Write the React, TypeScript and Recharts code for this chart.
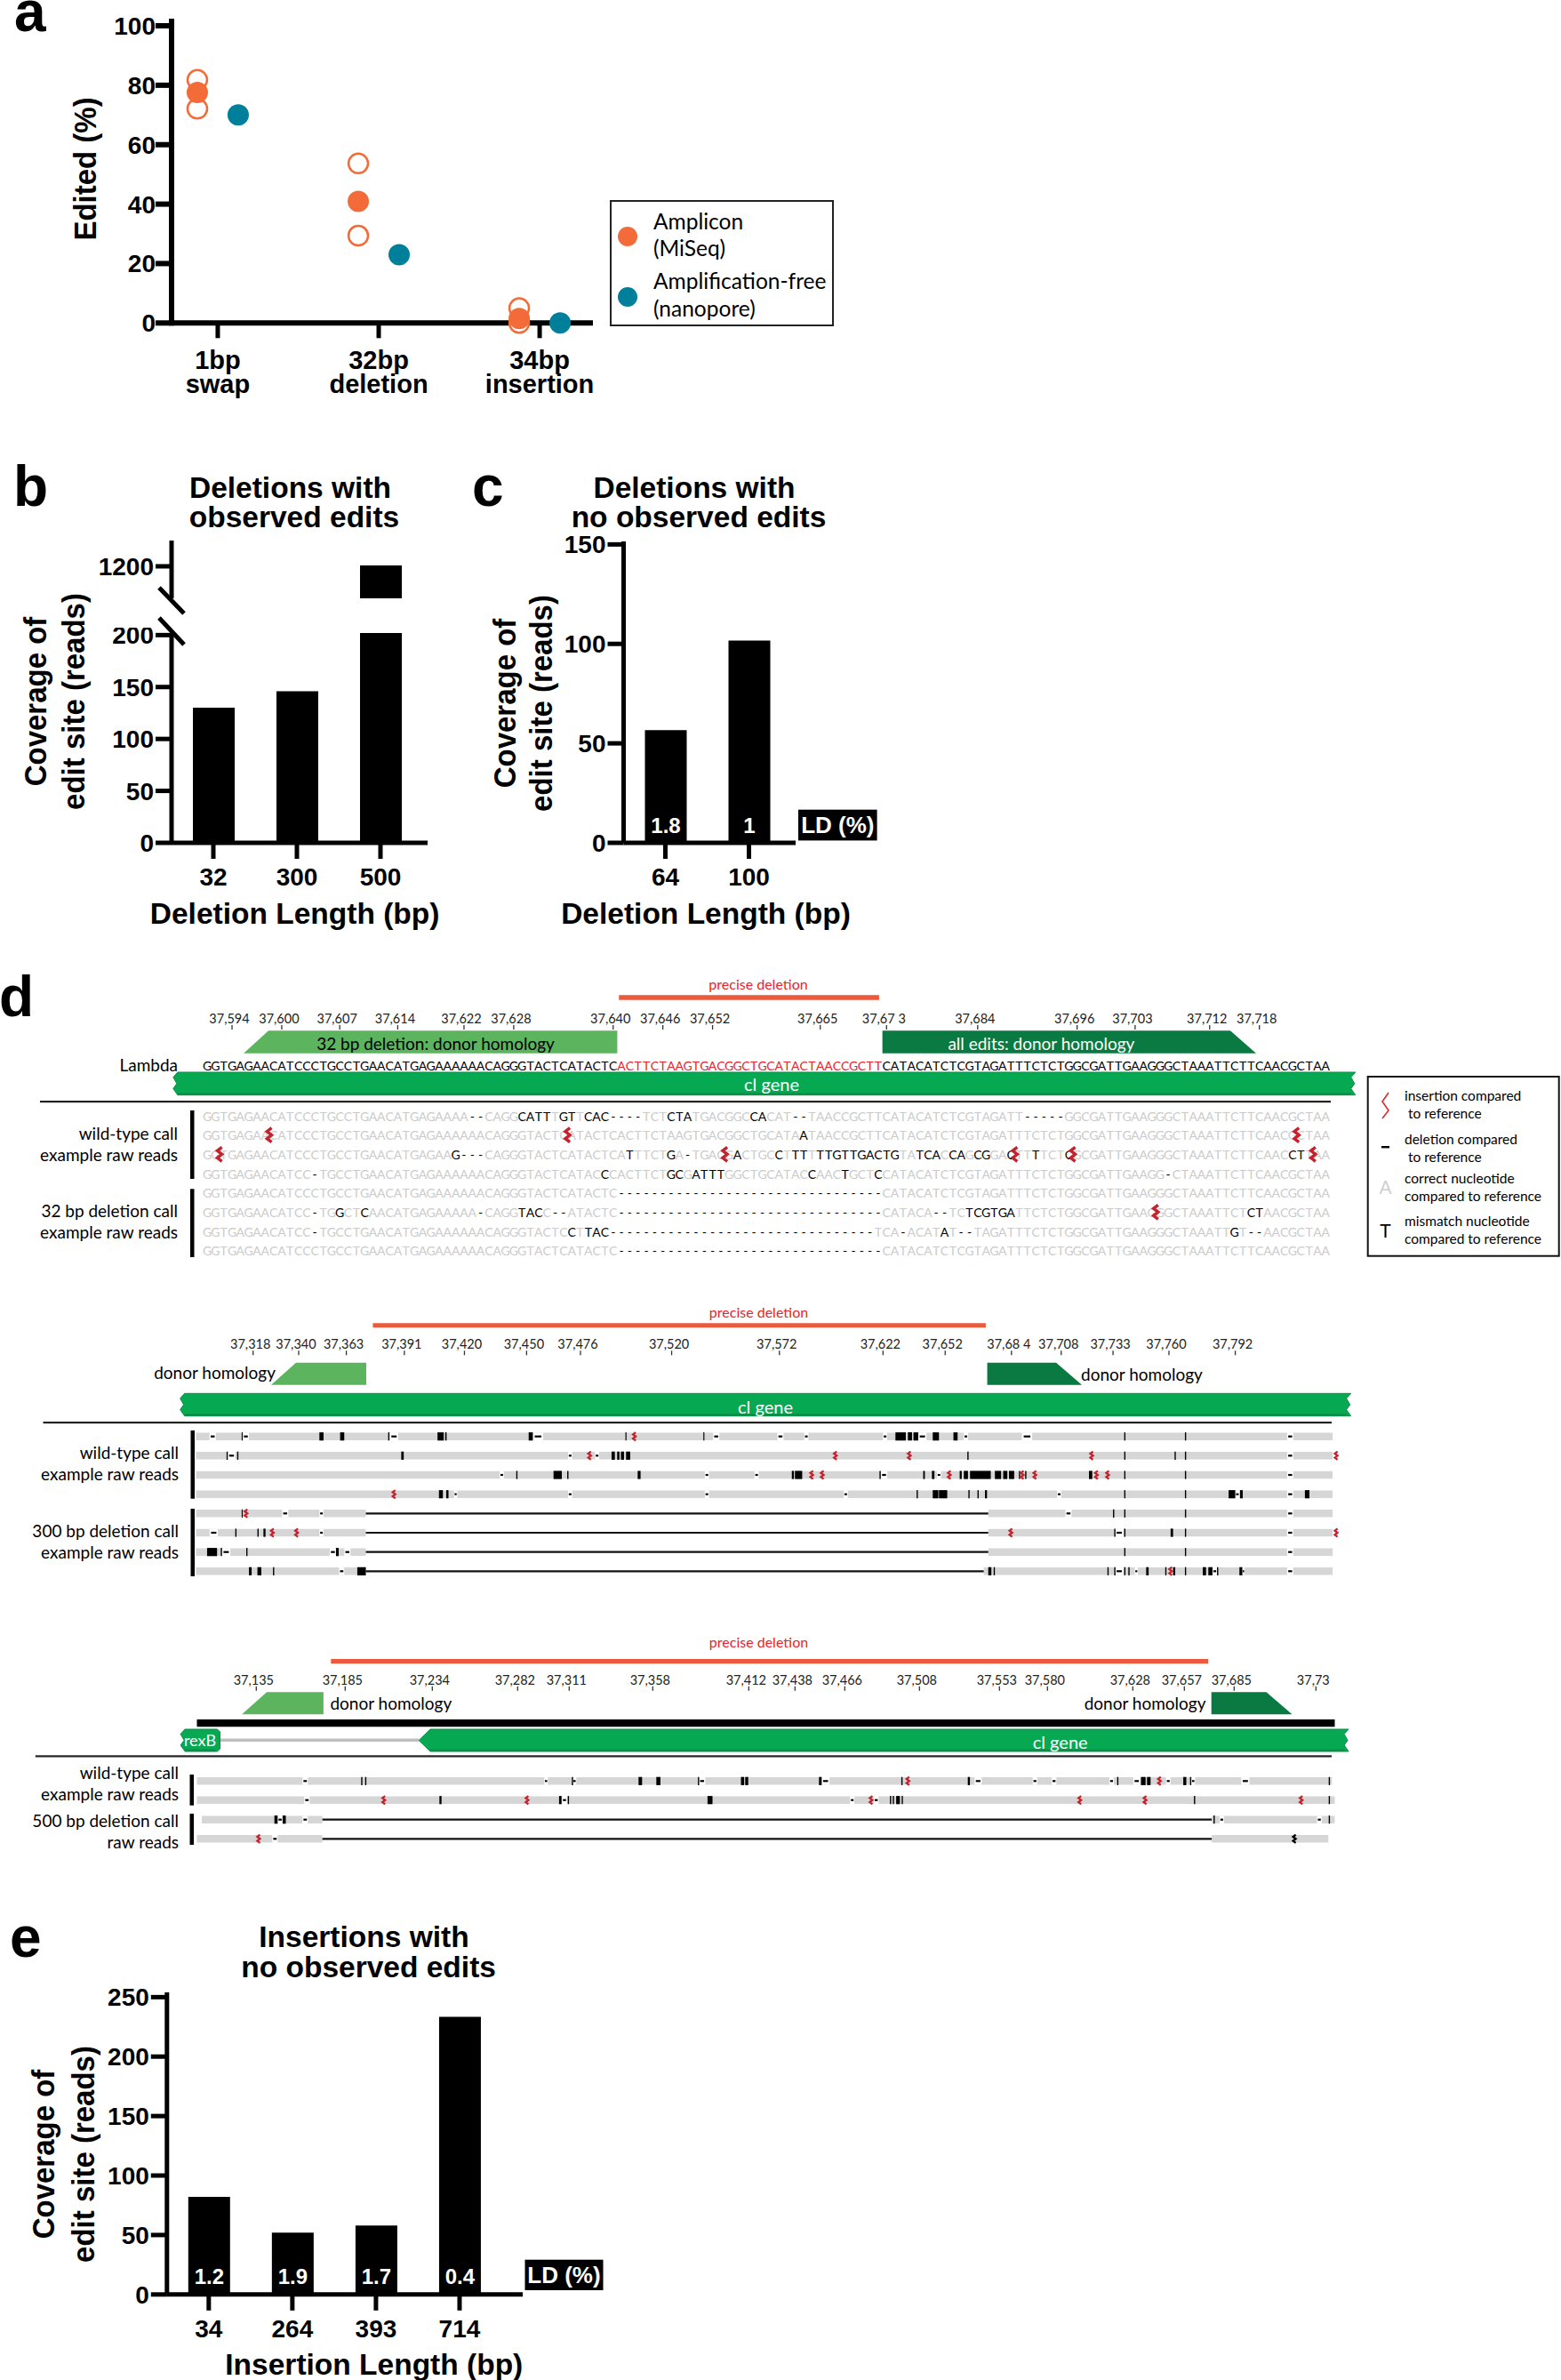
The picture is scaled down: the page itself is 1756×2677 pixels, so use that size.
import React from "react";
import {
  Bar,
  BarChart,
  LabelList,
  ReferenceArea,
  Scatter,
  ScatterChart,
  XAxis,
  YAxis,
} from "recharts";

// panel a
const editGroups = [["1bp", "swap"], ["32bp", "deletion"], ["34bp", "insertion"]];
const ampliconReplicates = [[81.8, 72.1], [53.7, 29.4], [5, 0]];
const ampliconMean = [77.6, 40.9, 1.5];
const nanopore = [70, 23, 0];

// panels b, c, e
const obsLengths = ["32", "300", "500"];
const obsCoverage = [130, 146, 1205];
const noObsLengths = ["64", "100"];
const noObsCoverage = [56.6, 101.7];
const noObsLd = ["1.8", "1"];
const insLengths = ["34", "264", "393", "714"];
const insCoverage = [82, 52, 57.9, 233.4];
const insLd = ["1.2", "1.9", "1.7", "0.4"];

// panel d, 32 bp locus
const refLeft = "GGTGAGAACATCCCTGCCTGAACATGAGAAAAAACAGGGTACTCATACTC";
const refDeleted = "ACTTCTAAGTGACGGCTGCATACTAACCGCTT";
const refRight = "CATACATCTCGTAGATTTCTCTGGCGATTGAAGGGCTAAATTCTTCAACGCTAA";
const d1Ticks = [37594, 37600, 37607, 37614, 37622, 37628, 37640, 37646, 37652, 37665, 37673, 37684, 37696, 37703, 37712, 37718];
const d1TickLabels = ["37,594", "37,600", "37,607", "37,614", "37,622", "37,628", "37,640", "37,646", "37,652", "37,665", "37,67 3", "37,684", "37,696", "37,703", "37,712", "37,718"];
const dash32 = "--------------------------------";
const d1Edits: [number, string][][] = [
  [[32, "--"], [38, "CATT"], [43, "GT"], [46, "CAC"], [49, "----"], [56, "CTA"], [66, "CA"], [71, "--"], [99, "-----"]],
  [[72, "A"]],
  [[30, "G---"], [51, "T"], [56, "G"], [58, "-"], [64, "A"], [69, "C"], [71, "TT"], [74, "TTGTTGACTG"], [86, "TCA"], [90, "CA"], [93, "CG"], [97, "C"], [100, "T"], [104, "C"], [131, "CT"]],
  [[13, "-"], [48, "C"], [56, "GC"], [59, "ATTT"], [73, "C"], [77, "T"], [81, "C"], [116, "-"]],
  [[50, dash32]],
  [[13, "-"], [16, "G"], [19, "C"], [33, "-"], [38, "TAC"], [42, "--"], [50, dash32], [88, "--"], [92, "TCGTGA"], [126, "CT"]],
  [[13, "-"], [44, "C"], [46, "TAC"], [49, dash32], [84, "-"], [89, "A"], [91, "--"], [124, "G"], [126, "--"]],
  [[50, dash32]],
];
const d1Insertions = [[], [8, 44, 132], [2, 63, 98, 105, 134], [], [], [115], [], []];

// panel d, 300 bp locus
const d2Ticks = [37318, 37340, 37363, 37391, 37420, 37450, 37476, 37520, 37572, 37622, 37652, 37684, 37708, 37733, 37760, 37792];
const d2TickLabels = ["37,318", "37,340", "37,363", "37,391", "37,420", "37,450", "37,476", "37,520", "37,572", "37,622", "37,652", "37,68 4", "37,708", "37,733", "37,760", "37,792"];
const d2Segments = [
  [[37290.4, 37839]],
  [[37290.4, 37839]],
  [[37290.4, 37839]],
  [[37290.4, 37839]],
  [[37290.4, 37372.4], [37672.8, 37839]],
  [[37290.4, 37372.4], [37672.8, 37839]],
  [[37290.4, 37372.4], [37672.8, 37839]],
  [[37290.4, 37372.4], [37670.6, 37839]],
];
const d2Mismatches = [
  [[37312.5, 37313], [37350, 37352], [37360, 37362], [37383.2, 37383.8], [37407, 37410], [37410.7, 37411.4], [37451, 37453], [37497.7, 37498.2], [37535.3, 37535.8], [37628, 37633], [37634, 37636], [37636.7, 37639], [37646, 37649], [37656, 37658], [37738.4, 37739], [37767.7, 37768.3]],
  [[37305.2, 37305.8], [37310.3, 37310.9], [37389.5, 37390.7], [37491, 37492.6], [37493.7, 37494.8], [37495.5, 37497], [37498, 37500], [37662.7, 37663.3], [37738.4, 37739], [37762.7, 37763.3], [37767.7, 37768.3]],
  [[37445, 37445.6], [37463, 37467], [37469.6, 37470.2], [37503.6, 37505], [37578, 37579], [37579.5, 37583], [37620.3, 37620.9], [37641.4, 37642.2], [37645.6, 37646.8], [37659, 37660], [37661, 37663], [37664, 37674], [37676, 37679], [37680, 37682], [37682.8, 37685.3], [37687.6, 37688.2], [37690.6, 37691.2], [37721.4, 37723], [37738.4, 37739], [37767.7, 37768.3]],
  [[37407.7, 37409.6], [37411.2, 37412.3], [37638.2, 37638.8], [37646, 37648.7], [37649, 37653], [37663.2, 37663.8], [37667.6, 37668.2], [37671.2, 37672.2], [37738.4, 37739], [37767.7, 37768.3], [37788.8, 37792], [37794.3, 37795.6], [37825.6, 37827.8]],
  [[37312.5, 37313], [37733, 37733.6], [37738.4, 37739], [37767.7, 37768.3]],
  [[37309.4, 37310], [37320.1, 37320.7], [37323, 37324], [37733.6, 37734.2], [37738.4, 37739], [37760.8, 37762], [37767.7, 37768.3]],
  [[37295.8, 37300.6], [37302.4, 37303], [37314.7, 37315.3], [37358, 37359.3], [37738.4, 37739], [37767.7, 37768.3]],
  [[37316, 37317.3], [37320.1, 37322], [37327.6, 37328.2], [37368.3, 37372.4], [37672.8, 37674.3], [37675.4, 37676], [37730.3, 37730.9], [37733.6, 37734.2], [37738.4, 37739], [37740.4, 37741], [37749, 37750.2], [37758.2, 37758.8], [37762, 37763], [37767.7, 37768.3], [37776.3, 37777.9], [37779, 37781], [37783.2, 37783.8], [37794, 37795.4]],
];
const d2Deletions = [
  [[37297, 37300], [37313, 37316], [37384, 37388], [37453, 37458], [37540, 37543], [37571, 37574], [37584, 37586], [37622, 37624], [37639, 37643], [37661, 37663], [37689, 37694], [37817, 37820]],
  [[37305.8, 37309.4], [37470, 37472], [37483, 37485], [37817, 37820]],
  [[37437, 37439], [37536, 37538], [37560, 37562], [37621, 37624], [37648, 37650], [37817, 37820]],
  [[37415, 37416.5], [37470, 37472], [37536, 37538], [37603, 37605], [37706, 37708], [37792, 37794], [37817, 37820]],
  [[37332, 37335], [37350, 37352], [37710, 37713], [37817, 37820]],
  [[37297, 37301], [37350, 37352], [37734, 37738], [37817, 37820]],
  [[37303, 37307], [37355, 37358], [37362, 37365], [37817, 37820]],
  [[37359.5, 37362], [37734, 37738], [37743.5, 37745], [37781, 37783.2], [37795.4, 37796.5], [37817, 37820]],
];
const d2Insertions = [[37502], [37480.4, 37599, 37634.7, 37722.7, 37840.7], [37587.6, 37592.7, 37654, 37689.2, 37695.3, 37725, 37730.4], [37386], [37314.6], [37327.3, 37339, 37683.7, 37840.7], [], [37760.8]];

// panel d, 500 bp locus
const d3Ticks = [37135, 37185, 37234, 37282, 37311, 37358, 37412, 37438, 37466, 37508, 37553, 37580, 37628, 37657, 37685, 37731];
const d3TickLabels = ["37,135", "37,185", "37,234", "37,282", "37,311", "37,358", "37,412", "37,438", "37,466", "37,508", "37,553", "37,580", "37,628", "37,657", "37,685", "37,73"];
const d3Segments = [
  [[37101.6, 37740]],
  [[37101.6, 37741.6]],
  [[37104.4, 37172.2], [37672.4, 37741.6]],
  [[37101.6, 37172.2], [37672.4, 37738]],
];
const d3Mismatches = [
  [[37194, 37194.7], [37196.2, 37196.9], [37312.5, 37313.2], [37350, 37352], [37360, 37362.3], [37383.4, 37384.1], [37407.6, 37409.4], [37410, 37411.7], [37451.5, 37453], [37497.8, 37498.5], [37535.2, 37536.4], [37619.2, 37619.9], [37632.6, 37635.2], [37636, 37638], [37656.4, 37658.1], [37660.2, 37660.9], [37738.2, 37738.9]],
  [[37238, 37239.2], [37305.3, 37306.7], [37310.2, 37310.9], [37388.8, 37391.6], [37491.4, 37492.1], [37493, 37493.7], [37494.9, 37497], [37498, 37498.7], [37662.4, 37663.1], [37738.2, 37738.9]],
  [[37145.2, 37147], [37149.8, 37151.6], [37673.4, 37674.1], [37738.2, 37738.9]],
  [],
];
const d3Deletions = [
  [[37161, 37164], [37297, 37299], [37313, 37315], [37384, 37387.5], [37453, 37457.4], [37539, 37543], [37571.7, 37574.2], [37582.4, 37585], [37614.8, 37617.3], [37628.3, 37632.1], [37646.7, 37649.2], [37661, 37663], [37689, 37693.6]],
  [[37162, 37165], [37307, 37309.7], [37469, 37471.4], [37482.4, 37485]],
  [[37147, 37149.8], [37161, 37164], [37676.8, 37679.3], [37731.6, 37734.2]],
  [[37144, 37147]],
];
const d3Insertions = [[37501.5, 37643], [37206.7, 37287.3, 37480.8, 37598.2, 37634.9, 37722.7], [], [37136.3]];
const d3BlackInsertions = [[], [], [], [37718.9]];

const ORANGE = "#F26B38";
const TEAL = "#007F9B";
const RED_TEXT = "#E8242C";
const DEL_BAR = "#EB5A3C";
const GENE = "#06A851";
const GENE_DARK = "#0A8F48";
const LIGHT_GREEN = "#5DB45F";
const DARK_GREEN = "#0A7A42";
const INS_RED = "#C4232E";
const READ_GRAY = "#D6D6D6";
const BASE_GRAY = "#CBCBCB";
const ARIAL = "'Liberation Sans', Arial, sans-serif";
const SOFT = "Lato, 'Noto Sans', sans-serif";

const T = ({ x, y, s = 18, b = false, c = "#000", a = "start", f = SOFT, rot = false, children }: any) => (
  <text
    x={rot ? 0 : x}
    y={rot ? 0 : y}
    fontSize={s}
    fontWeight={b ? 700 : 400}
    fill={c}
    textAnchor={a}
    dominantBaseline="central"
    fontFamily={f}
    transform={rot ? `translate(${x} ${y}) rotate(-90) scale(1 1.08)` : undefined}
  >
    {children}
  </text>
);

const Bold = (props: any) => <T f={ARIAL} b s={33.5} a="middle" {...props} />;

// panel a
const DODGE = 0.127;
const openPoints = ampliconReplicates.flatMap((vals, i) =>
  vals.map((v) => ({ x: i + 1 - DODGE, y: v }))
);
const meanPoints = ampliconMean.map((v, i) => ({ x: i + 1 - DODGE, y: v }));
const nanoporePoints = nanopore.map((v, i) => ({ x: i + 1 + DODGE, y: v }));

const dot = (fill: string, stroke: string) => (p: any) => (
  <circle cx={p.cx} cy={p.cy} r={stroke === "none" ? 12 : 11} fill={fill} stroke={stroke} strokeWidth={2.5} />
);

const EditedChart = () => (
  <div style={{ position: "absolute", left: 0, top: 0 }}>
    <ScatterChart width={700} height={454} margin={{ top: 24, right: 33, bottom: 0, left: 0 }}>
      <XAxis
        type="number"
        dataKey="x"
        domain={[0.713, 3.331]}
        allowDataOverflow
        ticks={[1, 2, 3]}
        interval={0}
        height={90.7}
        tickSize={17}
        axisLine={{ stroke: "#000", strokeWidth: 6 }}
        tickLine={{ stroke: "#000", strokeWidth: 5 }}
        tick={(p: any) => (
          <g>
            <text x={p.x} y={p.y + 33} textAnchor="middle" fontSize={29} fontWeight={700} fill="#000">
              {editGroups[p.index][0]}
            </text>
            <text x={p.x} y={p.y + 60} textAnchor="middle" fontSize={29} fontWeight={700} fill="#000">
              {editGroups[p.index][1]}
            </text>
          </g>
        )}
      />
      <YAxis
        type="number"
        dataKey="y"
        width={193}
        domain={[0, 101.5]}
        ticks={[0, 20, 40, 60, 80, 100]}
        interval={0}
        tickSize={18}
        tickMargin={0}
        axisLine={{ stroke: "#000", strokeWidth: 6, strokeLinecap: "square" }}
        tickLine={{ stroke: "#000", strokeWidth: 6 }}
        tick={{ fill: "#000", fontSize: 28, fontWeight: 700 }}
      />
      <Scatter data={openPoints} isAnimationActive={false} shape={dot("#fff", ORANGE)} />
      <Scatter data={meanPoints} isAnimationActive={false} shape={dot(ORANGE, "none")} />
      <Scatter data={nanoporePoints} isAnimationActive={false} shape={dot(TEAL, "none")} />
    </ScatterChart>
  </div>
);

// panels b, c, e
const CoverageBars = ({ names, values, ld, domain, ticks, axisX, plotTop, plotBottom, plotRight, padRight, ldOffset = 11, hideX = false }: any) => {
  const data = names.map((name: string, i: number) => ({ name, value: values[i], ld: ld ? ld[i] : undefined }));
  const axisHeight = hideX ? 0 : 62;
  return (
    <div style={{ position: "absolute", left: 0, top: plotTop - 6 }}>
      <BarChart
        width={plotRight + 4}
        height={plotBottom - plotTop + 6 + axisHeight}
        data={data}
        margin={{ top: 6, right: 4, bottom: 0, left: 0 }}
      >
        <XAxis
          dataKey="name"
          hide={hideX}
          height={axisHeight}
          interval={0}
          padding={{ left: 0, right: padRight }}
          tickSize={18}
          tickMargin={10}
          axisLine={{ stroke: "#000", strokeWidth: 5 }}
          tickLine={{ stroke: "#000", strokeWidth: 5 }}
          tick={{ fill: "#000", fontSize: 28, fontWeight: 700 }}
        />
        <YAxis
          type="number"
          width={axisX}
          domain={domain}
          allowDataOverflow
          ticks={ticks}
          interval={0}
          tickSize={18}
          tickMargin={2}
          axisLine={{ stroke: "#000", strokeWidth: 5 }}
          tickLine={{ stroke: "#000", strokeWidth: 5 }}
          tick={{ fill: "#000", fontSize: 28, fontWeight: 700 }}
        />
        <Bar dataKey="value" fill="#000" barSize={47} isAnimationActive={false}>
          {ld ? (
            <LabelList dataKey="ld" position="insideBottom" offset={ldOffset} fill="#fff" fontSize={24} fontWeight={700} />
          ) : null}
        </Bar>
      </BarChart>
    </div>
  );
};

// panel d helpers
const band = (key: string, x1: number, x2: number, y1: number, y2: number, fill: string, shape?: any) => (
  <ReferenceArea
    key={key}
    x1={x1}
    x2={x2}
    y1={y1}
    y2={y2}
    fill={fill}
    fillOpacity={1}
    stroke="none"
    ifOverflow="visible"
    shape={shape}
  />
);

const geneShape = (left: "zig" | "point", right: "zig" | "chamfer") => (p: any) => {
  const { x, y, width: w, height: h } = p;
  const xr = x + w;
  const leftPts =
    left === "zig"
      ? [[x + 5, y + h], [x, y + h * 0.72], [x + 4, y + h * 0.5], [x, y + h * 0.22], [x + 5, y]]
      : [[x + 13, y + h], [x, y + h / 2], [x + 13, y]];
  const rightPts =
    right === "zig"
      ? [[xr, y], [xr - 5, y + h * 0.22], [xr - 1, y + h * 0.5], [xr - 5, y + h * 0.72], [xr, y + h]]
      : [[xr - 3, y], [xr, y + 3], [xr, y + h - 3], [xr - 3, y + h]];
  const pts = [...leftPts, ...rightPts];
  return (
    <g>
      <polygon points={pts.map((q) => q.join(",")).join(" ")} fill={GENE} stroke={GENE_DARK} strokeWidth={1} />
      <rect x={x + (left === "zig" ? 5 : 13)} y={y + h - 2.5} width={w - (left === "zig" ? 10 : 18)} height={2.5} fill={GENE_DARK} />
    </g>
  );
};

const homologyShape = (side: "left" | "right", fill: string) => (p: any) => {
  const { x, y, width: w, height: h } = p;
  const pts =
    side === "left"
      ? [[x, y + h], [x + 28, y], [x + w, y], [x + w, y + h]]
      : [[x, y], [x + w - 29, y], [x + w, y + h], [x, y + h]];
  return <polygon points={pts.map((q) => q.join(",")).join(" ")} fill={fill} />;
};

const chevron = (color: string, h: number, w: number, sw: number) => (p: any) => (
  <path
    d={`M${p.cx + w},${p.cy - h}L${p.cx - w},${p.cy - h / 2}L${p.cx + w},${p.cy}L${p.cx - w},${p.cy + h / 2}L${p.cx + w},${p.cy + h}`}
    fill="none"
    stroke={color}
    strokeWidth={sw}
  />
);

const letter = (p: any) => (
  <text
    x={p.cx}
    y={p.cy}
    textAnchor="middle"
    dominantBaseline="central"
    fontSize={14}
    fontFamily={SOFT}
    fill={p.payload.color}
  >
    {p.payload.base}
  </text>
);

const Track = ({ top, height, axisHeight, domain, ticks, labels, children }: any) => (
  <div style={{ position: "absolute", left: 0, top }}>
    <ScatterChart width={1756} height={height} margin={{ top: 0, right: 0, bottom: 0, left: 0 }}>
      <XAxis
        type="number"
        dataKey="x"
        orientation="top"
        scale="linear"
        height={axisHeight}
        domain={domain}
        allowDataOverflow
        ticks={ticks}
        interval={0}
        axisLine={false}
        tickSize={5}
        tickMargin={0}
        tickLine={{ stroke: "#333", strokeWidth: 1.3 }}
        tick={(p: any) => (
          <text x={p.x - 3} y={p.y - 2} textAnchor="middle" fontSize={14.5} fontFamily={SOFT} fill="#222">
            {labels[p.index]}
          </text>
        )}
      />
      <YAxis type="number" dataKey="y" hide reversed allowDataOverflow domain={[top + axisHeight, top + height]} />
      {children}
    </ScatterChart>
  </div>
);

const readMarks = (id: string, rowY: number[], segments: number[][][], dels: number[][][], mism: number[][][]) => {
  const out: any[] = [];
  rowY.forEach((y, r) => {
    const segs = segments[r];
    segs.forEach((s, i) => out.push(band(`${id}g${r}-${i}`, s[0], s[1], y - 4.3, y + 4.3, READ_GRAY)));
    if (segs.length > 1) out.push(band(`${id}l${r}`, segs[0][1], segs[1][0], y - 1.1, y + 1.1, "#111"));
    dels[r].forEach((d, i) => {
      const mid = (d[0] + d[1]) / 2;
      const half = (d[1] - d[0]) * 0.32;
      out.push(band(`${id}w${r}-${i}`, d[0], d[1], y - 4.3, y + 4.3, "#fff"));
      out.push(band(`${id}d${r}-${i}`, mid - half, mid + half, y - 1.1, y + 1.1, "#000"));
    });
    mism[r].forEach((m, i) => out.push(band(`${id}m${r}-${i}`, m[0], m[1], y - 4.6, y + 4.6, "#000")));
  });
  return out;
};

const insPoints = (rowY: number[], ins: number[][]) =>
  rowY.flatMap((y, r) => ins[r].map((g) => ({ x: g, y })));

// 32 bp locus
const D1_Y = [1255, 1276.7, 1298.3, 1320, 1341.7, 1363.3, 1385, 1406.7];
const refFull = refLeft + refDeleted + refRight;
const basePos = (i: number) => 37591 + i;
const refPoints = refFull.split("").map((base, i) => ({
  x: basePos(i),
  y: 1198,
  base,
  color: i >= refLeft.length && i < refLeft.length + refDeleted.length ? RED_TEXT : "#000",
}));
const readPoints = D1_Y.flatMap((y, r) => {
  const chars: { base: string; color: string }[] = refFull.split("").map((base) => ({ base, color: BASE_GRAY }));
  d1Edits[r].forEach(([start, text]) => {
    text.split("").forEach((c, k) => {
      chars[start + k] = { base: c, color: "#000" };
    });
  });
  return chars.map((c, i) => ({ x: basePos(i), y, ...c }));
});

const D2_Y = [1615.7, 1637.3, 1659, 1680.7, 1702.3, 1724, 1745.7, 1767.3];
const D3_Y = [2003.3, 2024.7, 2046.7, 2068.3];

const Track1 = () => (
  <Track top={1090} height={340} axisHeight={68} domain={[37565.994, 37754.406]} ticks={d1Ticks} labels={d1TickLabels}>
    {band("pd", 37640.7, 37672.1, 1119.3, 1124.7, DEL_BAR)}
    {band("lh", 37595.4, 37640.5, 1159.3, 1184.7, LIGHT_GREEN, homologyShape("left", LIGHT_GREEN))}
    {band("dh", 37672.5, 37717.6, 1159.3, 1184.7, DARK_GREEN, homologyShape("right", DARK_GREEN))}
    {band("gene", 37586.9, 37729.6, 1206, 1231.7, GENE, geneShape("zig", "zig"))}
    <Scatter data={refPoints} isAnimationActive={false} shape={letter} />
    <Scatter data={readPoints} isAnimationActive={false} shape={letter} />
    <Scatter
      data={D1_Y.flatMap((y, r) => d1Insertions[r].map((idx) => ({ x: 37590.5 + idx, y })))}
      isAnimationActive={false}
      shape={chevron(INS_RED, 8, 2.6, 3.4)}
    />
  </Track>
);

const Track2 = () => (
  <Track top={1460} height={330} axisHeight={64.3} domain={[37195.86, 37949.2]} ticks={d2Ticks} labels={d2TickLabels}>
    {band("pd", 37375.8, 37671.6, 1488.3, 1493.3, DEL_BAR)}
    {band("lh", 37326.7, 37372.6, 1532.7, 1557.7, LIGHT_GREEN, homologyShape("left", LIGHT_GREEN))}
    {band("dh", 37672.3, 37718, 1532.7, 1557.7, DARK_GREEN, homologyShape("right", DARK_GREEN))}
    {band("gene", 37282.8, 37847.8, 1567.3, 1592.7, GENE, geneShape("zig", "zig"))}
    {readMarks("d2", D2_Y, d2Segments, d2Deletions, d2Mismatches)}
    <Scatter data={insPoints(D2_Y, d2Insertions)} isAnimationActive={false} shape={chevron(INS_RED, 4.6, 1.5, 2.3)} />
  </Track>
);

const Track3 = () => (
  <Track top={1840} height={250} axisHeight={61.7} domain={[36990.85, 37868.85]} ticks={d3Ticks} labels={d3TickLabels}>
    {band("pd", 37177, 37670.4, 1866, 1871.3, DEL_BAR)}
    {band("lh", 37126.9, 37172.8, 1903.3, 1928.3, LIGHT_GREEN, homologyShape("left", LIGHT_GREEN))}
    {band("dh", 37672.2, 37717.6, 1903.3, 1928.3, DARK_GREEN, homologyShape("right", DARK_GREEN))}
    {band("cover", 37101.6, 37741.6, 1934, 1942.3, "#000")}
    {band("link", 37114.6, 37226.4, 1955.5, 1959, "#BFBFBF")}
    {band("rex", 37092.4, 37114.6, 1945, 1970, GENE, geneShape("zig", "chamfer"))}
    {band("gene", 37226.4, 37749.4, 1945, 1970, GENE, geneShape("point", "zig"))}
    {readMarks("d3", D3_Y, d3Segments, d3Deletions, d3Mismatches)}
    <Scatter data={insPoints(D3_Y, d3Insertions)} isAnimationActive={false} shape={chevron(INS_RED, 4.6, 1.5, 2.3)} />
    <Scatter data={insPoints(D3_Y, d3BlackInsertions)} isAnimationActive={false} shape={chevron("#000", 4.6, 1.5, 2.3)} />
  </Track>
);

const CoverageLabel = ({ x1, x2, y }: any) => (
  <>
    <Bold x={x1} y={y} s={33} rot>Coverage of</Bold>
    <Bold x={x2} y={y} s={33} rot>edit site (reads)</Bold>
  </>
);

const Overlay = () => (
  <svg width={1756} height={2677} style={{ position: "absolute", left: 0, top: 0, pointerEvents: "none" }}>
    {/* panel letters */}
    <text x={16} y={35} fontFamily={ARIAL} fontWeight={700} fontSize={64}>a</text>
    <text x={15} y={569} fontFamily={ARIAL} fontWeight={700} fontSize={64}>b</text>
    <text x={531} y={569} fontFamily={ARIAL} fontWeight={700} fontSize={64}>c</text>
    <text x={-1} y={1143} fontFamily={ARIAL} fontWeight={700} fontSize={64}>d</text>
    <text x={11} y={2201} fontFamily={ARIAL} fontWeight={700} fontSize={64}>e</text>

    {/* panel a */}
    <Bold x={96} y={190} s={33} rot>Edited (%)</Bold>
    <rect x={687} y={226} width={250} height={140} fill="#fff" stroke="#222" strokeWidth={2} />
    <circle cx={706} cy={266} r={11} fill={ORANGE} />
    <circle cx={706} cy={334} r={11} fill={TEAL} />
    <T x={735} y={248} s={24.5}>Amplicon</T>
    <T x={735} y={278} s={24.5}>(MiSeq)</T>
    <T x={735} y={315} s={24.5}>Amplification-free</T>
    <T x={735} y={346.7} s={24.5}>(nanopore)</T>

    {/* panel b */}
    <Bold x={326.5} y={548}>Deletions with</Bold>
    <Bold x={331} y={581.4}>observed edits</Bold>
    <CoverageLabel x1={40} x2={83} y={789} />
    <Bold x={331.6} y={1027}>Deletion Length (bp)</Bold>
    <line x1={179} y1={661} x2={207} y2={690} stroke="#000" strokeWidth={5} />
    <line x1={179} y1={695} x2={207} y2={725} stroke="#000" strokeWidth={5} />

    {/* panel c */}
    <Bold x={781} y={548}>Deletions with</Bold>
    <Bold x={786} y={581.4}>no observed edits</Bold>
    <CoverageLabel x1={567.6} x2={609} y={791} />
    <Bold x={794} y={1027}>Deletion Length (bp)</Bold>
    <rect x={898} y={910.7} width={88.6} height={34.7} fill="#000" />
    <T x={942.3} y={928} f={ARIAL} b s={26} c="#fff" a="middle">LD (%)</T>

    {/* panel d, 32 bp */}
    <T x={853} y={1106} s={16} c={RED_TEXT} a="middle">precise deletion</T>
    <T x={490} y={1173} s={19} a="middle">32 bp deletion: donor homology</T>
    <T x={1171.4} y={1173} s={19} c="#fff" a="middle">all edits: donor homology</T>
    <T x={200} y={1197} s={19} a="end">Lambda</T>
    <T x={868} y={1219} s={20} c="#fff" a="middle">cl gene</T>
    <rect x={45} y={1238} width={1452} height={2.2} fill="#222" />
    <rect x={214} y={1249} width={4.5} height={77} fill="#000" />
    <rect x={214} y={1337.3} width={4.5} height={76.7} fill="#000" />
    <T x={200} y={1274} s={19} a="end">wild-type call</T>
    <T x={200} y={1298} s={19} a="end">example raw reads</T>
    <T x={200} y={1361.7} s={19} a="end">32 bp deletion call</T>
    <T x={200} y={1385.7} s={19} a="end">example raw reads</T>

    {/* key */}
    <rect x={1538.7} y={1211} width={215} height={201.7} fill="#fff" stroke="#111" strokeWidth={2} />
    <path d="M1562,1229L1555,1239L1562,1249L1555,1258" fill="none" stroke={RED_TEXT} strokeWidth={1.6} />
    <T x={1580} y={1231.7} s={15.5}>insertion compared</T>
    <T x={1584} y={1251.7} s={15.5}>to reference</T>
    <rect x={1554} y={1289} width={9} height={2.4} fill="#000" />
    <T x={1580} y={1280.7} s={15.5}>deletion compared</T>
    <T x={1584} y={1300.7} s={15.5}>to reference</T>
    <T x={1558.5} y={1334} s={21} c="#D0D0D0" a="middle">A</T>
    <T x={1580} y={1325} s={15.5}>correct nucleotide</T>
    <T x={1580} y={1345} s={15.5}>compared to reference</T>
    <T x={1558.5} y={1383} s={21} a="middle">T</T>
    <T x={1580} y={1372.7} s={15.5}>mismatch nucleotide</T>
    <T x={1580} y={1392.7} s={15.5}>compared to reference</T>

    {/* panel d, 300 bp */}
    <T x={853.5} y={1475} s={16} c={RED_TEXT} a="middle">precise deletion</T>
    <T x={310} y={1543} s={19} a="end">donor homology</T>
    <T x={1216} y={1545} s={19}>donor homology</T>
    <T x={861} y={1581.7} s={20} c="#fff" a="middle">cl gene</T>
    <rect x={48.5} y={1599} width={1449.5} height={2.2} fill="#222" />
    <rect x={214.5} y={1609} width={4.5} height={76.7} fill="#000" />
    <rect x={214.5} y={1697} width={4.5} height={76} fill="#000" />
    <T x={201} y={1633} s={19} a="end">wild-type call</T>
    <T x={201} y={1657.3} s={19} a="end">example raw reads</T>
    <T x={201} y={1721} s={19} a="end">300 bp deletion call</T>
    <T x={201} y={1745.3} s={19} a="end">example raw reads</T>

    {/* panel d, 500 bp */}
    <T x={853.5} y={1846.7} s={16} c={RED_TEXT} a="middle">precise deletion</T>
    <T x={371.4} y={1915} s={19}>donor homology</T>
    <T x={1356.5} y={1915} s={19} a="end">donor homology</T>
    <T x={225} y={1957} s={18} c="#fff" a="middle">rexB</T>
    <T x={1192.7} y={1959} s={20} c="#fff" a="middle">cl gene</T>
    <rect x={39.8} y={1974.3} width={1458.2} height={2.2} fill="#222" />
    <rect x={213.5} y={1996} width={4.5} height={34.7} fill="#000" />
    <rect x={213.5} y={2040} width={4.5} height={35} fill="#000" />
    <T x={201} y={1993.7} s={19} a="end">wild-type call</T>
    <T x={201} y={2017.7} s={19} a="end">example raw reads</T>
    <T x={201} y={2047.3} s={19} a="end">500 bp deletion call</T>
    <T x={201} y={2071} s={19} a="end">raw reads</T>

    {/* panel e */}
    <Bold x={409.5} y={2178.7}>Insertions with</Bold>
    <Bold x={414.6} y={2212}>no observed edits</Bold>
    <CoverageLabel x1={49} x2={94} y={2423} />
    <Bold x={420.8} y={2659}>Insertion Length (bp)</Bold>
    <rect x={590.5} y={2541.7} width={88} height={34.3} fill="#000" />
    <T x={634.5} y={2559} f={ARIAL} b s={26} c="#fff" a="middle">LD (%)</T>
  </svg>
);

const App = () => (
  <div
    style={{
      position: "absolute",
      left: 0,
      top: 0,
      width: 1756,
      height: 2677,
      overflow: "hidden",
      background: "#fff",
      fontFamily: ARIAL,
    }}
  >
    <EditedChart />
    <CoverageBars
      names={obsLengths}
      values={[null, null, obsCoverage[2]]}
      domain={[1000, 1361]}
      ticks={[1200]}
      axisX={193}
      plotTop={608}
      plotBottom={673}
      plotRight={481}
      padRight={6}
      hideX
    />
    <CoverageBars
      names={obsLengths}
      values={obsCoverage}
      domain={[0, 202]}
      ticks={[0, 50, 100, 150, 200]}
      axisX={193}
      plotTop={712}
      plotBottom={948}
      plotRight={481}
      padRight={6}
    />
    <CoverageBars
      names={noObsLengths}
      values={noObsCoverage}
      ld={noObsLd}
      domain={[0, 151.5]}
      ticks={[0, 50, 100, 150]}
      axisX={701.5}
      plotTop={609}
      plotBottom={948}
      plotRight={895}
      padRight={5.5}
    />
    <Track1 />
    <Track2 />
    <Track3 />
    <CoverageBars
      names={insLengths}
      values={insCoverage}
      ld={insLd}
      domain={[0, 254]}
      ticks={[0, 50, 100, 150, 200, 250]}
      axisX={187.8}
      plotTop={2241}
      plotBottom={2580.8}
      plotRight={588}
      padRight={24}
      ldOffset={12}
    />
    <Overlay />
  </div>
);

export default App;
